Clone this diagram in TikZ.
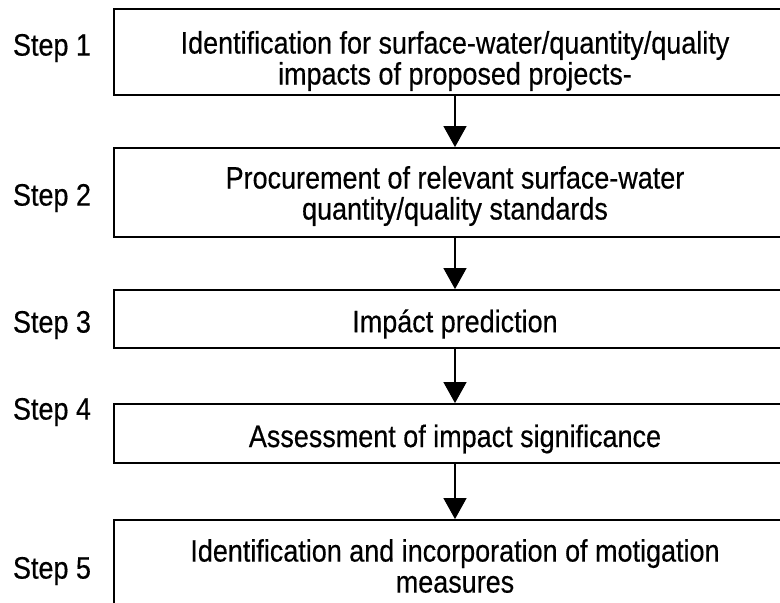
\documentclass[tikz,border=0pt]{standalone}
\usepackage{fontspec}
\setmainfont[FakeStretch=0.87,FakeBold=0.4]{Liberation Sans}
\usetikzlibrary{arrows.meta,positioning}

\begin{document}
\begin{tikzpicture}[x=1pt,y=-1pt,
  stepbox/.style={draw,line width=1.8pt,minimum width=682pt,inner sep=0pt},
  boxtext/.style={align=center,inner sep=0pt,font=\fontsize{31}{31}\selectfont},
  steplabel/.style={font=\fontsize{31}{31}\selectfont},
  flow/.style={-{Triangle[width=23pt,length=21pt]},line width=1.2pt}]
\useasboundingbox (0,0) rectangle (780,603);
\clip (0,0) rectangle (780,603);
% the five boxes
\node (s1) at (455,52) [stepbox,minimum height=86pt] {};
\node (s2) at (455,192.5) [stepbox,minimum height=89pt] {};
\node (s3) at (455,319) [stepbox,minimum height=58pt] {};
\node (s4) at (455,433.5) [stepbox,minimum height=59pt] {};
\node (s5) at (455,568) [stepbox,minimum height=96pt] {};
% their texts
\node (t1) at (455,61) [boxtext]
  {Identification for surface-water/quantity/quality\\impacts of proposed projects-};
\node (t2) at (455,196) [boxtext]
  {Procurement of relevant surface-water\\quantity/quality standards};
\node (t3) at (455,324) [boxtext] {Impáct prediction};
\node (t4) at (455,439) [boxtext] {Assessment of impact significance};
\node (t5) at (455,566) [boxtext]
  {Identification and incorporation of motigation\\measures};
% step labels
\node (l1) at (52,48) [steplabel] {Step 1};
\node (l2) at (52,198) [steplabel] {Step 2};
\node (l3) at (52,325) [steplabel] {Step 3};
\node (l4) at (52,412) [steplabel] {Step 4};
\node (l5) at (52,571) [steplabel] {Step 5};
% arrows
\draw [flow] (s1) -- (s2);
\draw [flow] (s2) -- (s3);
\draw [flow] (s3) -- (s4);
\draw [flow] (s4) -- (s5);
\end{tikzpicture}
\end{document}
